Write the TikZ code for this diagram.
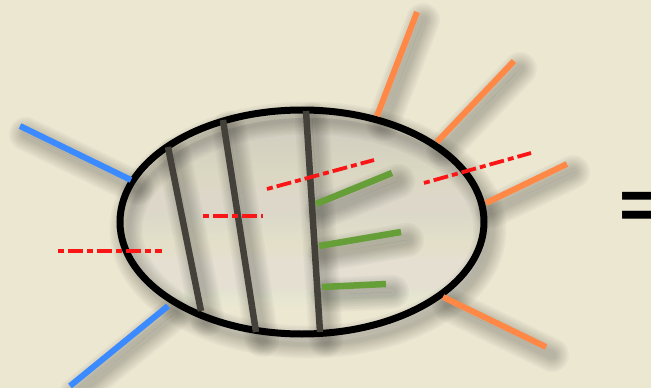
\documentclass[tikz,border=0pt]{standalone}
\usepackage{fontspec}
\newfontfamily\eqfont{DejaVu Sans}

\definecolor{paper}{RGB}{236,231,209}
\definecolor{shade}{RGB}{95,90,62}
\definecolor{legblue}{RGB}{60,138,255}
\definecolor{legorange}{RGB}{255,136,70}
\definecolor{rung}{RGB}{68,65,58}
\definecolor{twig}{RGB}{102,158,55}
\definecolor{cut}{RGB}{250,22,22}

\tikzset{
  blob/.style={draw=black, line width=7pt},
  legb/.style={draw=legblue, line width=6pt},
  lego/.style={draw=legorange, line width=6pt},
  rungline/.style={draw=rung, line width=6.5pt},
  twigline/.style={draw=twig, line width=6.5pt},
  cutline/.style={draw=cut, line width=3.8pt,
    dash pattern=on 6pt off 4pt on 15pt off 4pt},
}

% soft drop shadow: stacked translucent strokes, offset down and right
\newcommand\softshade[2]{%
  \foreach \sw in {1,...,8}{%
    \pgfmathsetmacro\shw{#1+3.5*\sw}%
    \draw[shade, line width=\shw pt, opacity=0.027, line cap=round,
          shift={(6,8)}] #2;}%
}

\begin{document}
\begin{tikzpicture}[x=1pt,y=-1pt]
  \fill[paper] (0,0) rectangle (651,388);
  \useasboundingbox (0,0) rectangle (651,388);

  % shadows
  \softshade{5}{(484,222) arc [start angle=0, end angle=360,
                               x radius=182, y radius=112]}
  \softshade{6}{(20,126) -- (131,180)}
  \softshade{6}{(168,306) -- (70,386)}
  \softshade{6}{(417,12) -- (377,116)}
  \softshade{6}{(514,61) -- (437,142)}
  \softshade{6}{(567,164) -- (486,203)}
  \softshade{6}{(443,297) -- (546,347)}
  \softshade{6.5}{(168,147) -- (201,311)}
  \softshade{6.5}{(223,120) -- (256,332)}
  \softshade{6.5}{(306,111) -- (320,332)}
  \softshade{6.5}{(316,204) -- (392,173)}
  \softshade{6.5}{(319,246) -- (401,232)}
  \softshade{6.5}{(322,287) -- (386,284)}

  % the cell outline
  \draw[blob] (302,222) ellipse [x radius=182, y radius=112];

  % legs outside the cell
  \draw[legb] (20,126) -- (131,180);
  \draw[legb] (168,306) -- (70,386);
  \draw[lego] (417,12) -- (377,116);
  \draw[lego] (514,61) -- (437,142);
  \draw[lego] (567,164) -- (486,203);
  \draw[lego] (443,297) -- (546,347);

  % rungs across the cell
  \draw[rungline] (168,147) -- (201,311);
  \draw[rungline] (223,120) -- (256,332);
  \draw[rungline] (306,111) -- (320,332);

  % branches off the last rung
  \draw[twigline] (316,204) -- (392,173);
  \draw[twigline] (319,246) -- (401,232);
  \draw[twigline] (322,287) -- (386,284);

  % cut lines
  \draw[cutline] (58,251) -- (162,251);
  \draw[cutline] (203,216) -- (263,216);
  \draw[cutline] (267,189) -- (374,160);
  \draw[cutline] (424,183) -- (531,153);

  % equals sign
  \node[anchor=base west, inner sep=0pt,
        font=\eqfont\fontsize{95}{95}\selectfont] (eq) at (612,235) {=};
\end{tikzpicture}
\end{document}
